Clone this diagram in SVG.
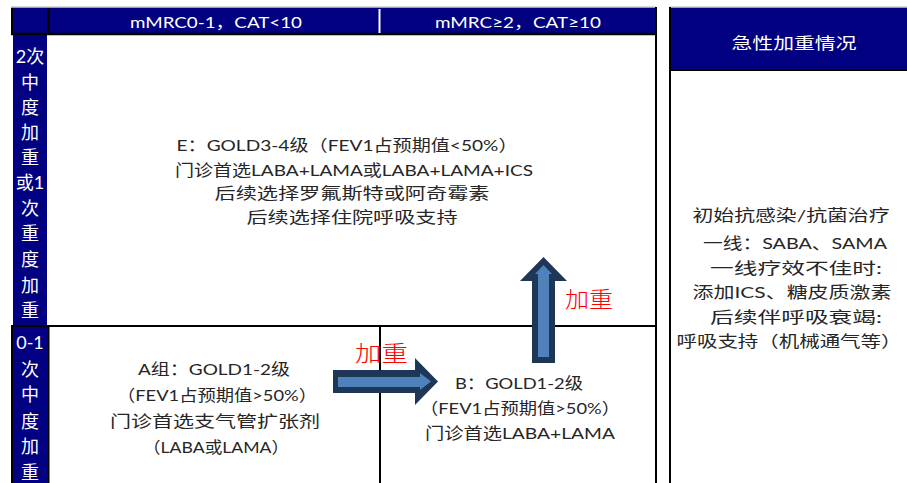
<svg xmlns="http://www.w3.org/2000/svg" width="907" height="483" viewBox="0 0 907 483">
<style>
.navy{fill:#000080}
.ln{stroke:#000;stroke-width:2;fill:none}
.hd{font-family:Lato,"Noto Sans CJK SC",sans-serif;font-size:16px;fill:#fff;text-anchor:middle}
.side{font-family:Lato,"Noto Sans CJK SC",sans-serif;font-size:18px;fill:#fff;text-anchor:middle}
.tx{font-family:Lato,"Noto Sans CJK SC",sans-serif;font-size:16px;fill:#262626;text-anchor:middle}
.red{font-family:"Noto Sans CJK SC",sans-serif;font-size:22px;fill:#ff0000;font-weight:300}
.arO{fill:#1f3756}
.arI{fill:#4f81bd}
</style>
<rect width="907" height="483" fill="#fff"/>
<g id="main-table">
  <rect x="11" y="7" width="645" height="27" class="navy"/>
  <line x1="11" y1="7" x2="656" y2="7" stroke="#cfcfcf" stroke-width="1.5"/>
  <line x1="11" y1="34" x2="656" y2="34" stroke="#000" stroke-width="2.5"/>
  <line x1="12" y1="8" x2="12" y2="34" stroke="#000" stroke-width="2"/>
  <line x1="48.5" y1="8" x2="48.5" y2="35" stroke="#000" stroke-width="2"/>
  <line x1="379.5" y1="9" x2="379.5" y2="33" stroke="#fff" stroke-width="2"/>
  <line x1="656" y1="7" x2="656" y2="483" class="ln"/>
  <line x1="11" y1="326" x2="656" y2="326" class="ln"/>
  <line x1="380" y1="326" x2="380" y2="483" class="ln"/>
  <line x1="48.5" y1="326" x2="48.5" y2="483" class="ln"/>
</g>
<g id="header-col1"><text class="hd" x="216" y="28" textLength="172" lengthAdjust="spacingAndGlyphs">mMRC0-1，CAT&lt;10</text></g>
<g id="header-col2"><text class="hd" x="518" y="28" textLength="166" lengthAdjust="spacingAndGlyphs">mMRC≥2，CAT≥10</text></g>
<g id="row-high">
  <rect x="13" y="35" width="34" height="290" class="navy"/>
  <text class="side" x="30" y="63">2次</text>
  <text class="side" x="30" y="89">中</text>
  <text class="side" x="30" y="114">度</text>
  <text class="side" x="30" y="139">加</text>
  <text class="side" x="30" y="164">重</text>
  <text class="side" x="30" y="189">或1</text>
  <text class="side" x="30" y="215">次</text>
  <text class="side" x="30" y="240">重</text>
  <text class="side" x="30" y="266">度</text>
  <text class="side" x="30" y="292">加</text>
  <text class="side" x="30" y="317">重</text>
</g>
<g id="row-low">
  <rect x="12" y="327" width="36" height="156" class="navy"/>
  <line x1="12" y1="326" x2="12" y2="483" stroke="#000" stroke-width="2"/>
  <text class="side" x="30" y="349">0-1</text>
  <text class="side" x="30" y="376">次</text>
  <text class="side" x="30" y="401">中</text>
  <text class="side" x="30" y="428">度</text>
  <text class="side" x="30" y="453">加</text>
  <text class="side" x="30" y="479">重</text>
</g>
<g id="group-E">
  <text class="tx" x="347" y="151" textLength="341" lengthAdjust="spacingAndGlyphs">E：GOLD3-4级（FEV1占预期值&lt;50%）</text>
  <text class="tx" x="354" y="176" textLength="358" lengthAdjust="spacingAndGlyphs">门诊首选LABA+LAMA或LABA+LAMA+ICS</text>
  <text class="tx" x="352" y="199" textLength="275" lengthAdjust="spacingAndGlyphs">后续选择罗氟斯特或阿奇霉素</text>
  <text class="tx" x="352" y="223" textLength="211" lengthAdjust="spacingAndGlyphs">后续选择住院呼吸支持</text>
</g>
<g id="group-A">
  <text class="tx" x="214" y="375" textLength="152" lengthAdjust="spacingAndGlyphs">A组：GOLD1-2级</text>
  <text class="tx" x="217" y="401" textLength="200" lengthAdjust="spacingAndGlyphs">（FEV1占预期值&gt;50%）</text>
  <text class="tx" x="215" y="427" textLength="210" lengthAdjust="spacingAndGlyphs">门诊首选支气管扩张剂</text>
  <text class="tx" x="216" y="453" textLength="146" lengthAdjust="spacingAndGlyphs">（LABA或LAMA）</text>
</g>
<g id="group-B">
  <text class="tx" x="519" y="389" textLength="128" lengthAdjust="spacingAndGlyphs">B：GOLD1-2级</text>
  <text class="tx" x="520" y="414" textLength="200" lengthAdjust="spacingAndGlyphs">（FEV1占预期值&gt;50%）</text>
  <text class="tx" x="520" y="439" textLength="190" lengthAdjust="spacingAndGlyphs">门诊首选LABA+LAMA</text>
</g>
<g id="exacerbation-panel">
  <rect x="669" y="7" width="240" height="63" class="navy"/>
  <line x1="669" y1="7" x2="907" y2="7" stroke="#cfcfcf" stroke-width="1.5"/>
  <line x1="669" y1="70" x2="907" y2="70" stroke="#000" stroke-width="2"/>
  <line x1="670" y1="7" x2="670" y2="483" stroke="#000" stroke-width="2"/>
  <text class="hd" x="794" y="49" textLength="125" lengthAdjust="spacingAndGlyphs">急性加重情况</text>
  <text class="tx" x="791" y="221" textLength="197" lengthAdjust="spacingAndGlyphs">初始抗感染/抗菌治疗</text>
  <text class="tx" x="795" y="249" textLength="184" lengthAdjust="spacingAndGlyphs">一线：SABA、SAMA</text>
  <text class="tx" x="796" y="274" textLength="172" lengthAdjust="spacingAndGlyphs">一线疗效不佳时:</text>
  <text class="tx" x="792" y="298" textLength="199" lengthAdjust="spacingAndGlyphs">添加ICS、糖皮质激素</text>
  <text class="tx" x="796" y="323" textLength="172" lengthAdjust="spacingAndGlyphs">后续伴呼吸衰竭:</text>
  <text class="tx" x="789" y="347" textLength="225" lengthAdjust="spacingAndGlyphs">呼吸支持（机械通气等）</text>
</g>
<g id="connectors">
  <polygon class="arO" points="333,370 415,370 415,358 438,381.5 415,405 415,393 333,393"/>
  <polygon class="arI" points="338,377 420,377 420,373 431,381.5 420,390 420,387 338,387"/>
  <text class="red" x="355" y="361" textLength="53" lengthAdjust="spacingAndGlyphs">加重</text>
  <polygon class="arO" points="532,363 532,281 520,281 543.5,257 567,281 555,281 555,363"/>
  <polygon class="arI" points="538,357 538,274 535,274 543.5,265 552,274 549,274 549,357"/>
  <text class="red" x="565" y="307" textLength="48" lengthAdjust="spacingAndGlyphs">加重</text>
</g>
</svg>
